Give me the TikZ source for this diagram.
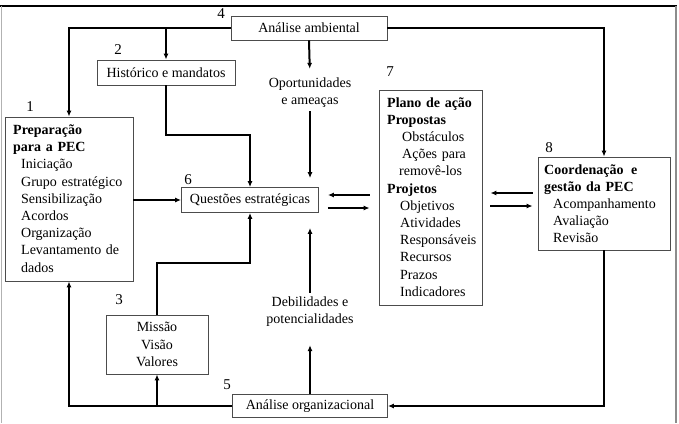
\documentclass[tikz,border=0pt]{standalone}
\usepackage{fontspec}
\setmainfont{Liberation Serif}
\usetikzlibrary{arrows.meta,calc}
\tikzset{
  box/.style={draw=black!70, line width=0.8pt, inner sep=0pt, fill=white},
  txt/.style={font=\fontsize{14}{17.2}\selectfont, inner sep=0pt},
  blk/.style={txt, align=left, anchor=base west},
  num/.style={font=\fontsize{15}{17}\selectfont, inner sep=0pt},
  conn/.style={line width=2pt, black},
  arr/.style={conn, -{Latex[length=6pt,width=5pt]}},
}
\begin{document}
\begin{tikzpicture}[x=1pt,y=-1pt]
\useasboundingbox (0,0) rectangle (679,423);
% frame
\draw[line width=1.5pt] (0,6) -- (677,6);
\draw[black!30, line width=1pt] (1,6) -- (1,423);
\draw[black!45, line width=2.5pt] (676,6) -- (676,423);

% boxes
\node[box, txt, minimum width=156pt, minimum height=24pt] (amb) at (309,28) {Análise ambiental};
\node[box, txt, minimum width=138pt, minimum height=25pt] (hist) at (166,72.5) {Histórico e mandatos};
\node[box, minimum width=128pt, minimum height=164pt] (prep) at (69,199) {};
\node[box, txt, minimum width=137pt, minimum height=25pt] (quest) at (250,200) {Questões estratégicas};
\node[box, txt, align=center, minimum width=102pt, minimum height=59pt] (miss) at (157,344.5) {Missão\\Visão\\Valores};
\node[box, txt, minimum width=155pt, minimum height=23pt] (org) at (310,406) {Análise organizacional};
\node[box, minimum width=103pt, minimum height=215pt] (plano) at (430.5,197.5) {};
\node[box, minimum width=132pt, minimum height=93pt] (coord) at (604,203.5) {};

% box texts
\node[blk, text width=118pt] (preptxt) at (13,134.5) {\textbf{Preparação}\\\textbf{para a PEC}\\
\hspace*{8pt}Iniciação\\\hspace*{8pt}Grupo estratégico\\\hspace*{8pt}Sensibilização\\
\hspace*{8pt}Acordos\\\hspace*{8pt}Organização\\\hspace*{8pt}Levantamento de\\\hspace*{8pt}dados};
\node[blk, text width=95pt] (planotxt) at (387,107) {\textbf{Plano de ação}\\\textbf{Propostas}\\
\hspace*{15pt}Obstáculos\\\hspace*{15pt}Ações para\\\hspace*{12pt}removê-los\\\textbf{Projetos}\\
\hspace*{13pt}Objetivos\\\hspace*{13pt}Atividades\\\hspace*{13pt}Responsáveis\\
\hspace*{13pt}Recursos\\\hspace*{13pt}Prazos\\\hspace*{13pt}Indicadores};
\node[blk, text width=125pt] (coordtxt) at (544,174) {\textbf{Coordenação\hspace{3pt} e}\\\textbf{gestão da PEC}\\
\hspace*{9pt}Acompanhamento\\\hspace*{9pt}Avaliação\\\hspace*{9pt}Revisão};

% free texts
\node[txt, align=center] (oport) at (310,93) {Oportunidades\\e ameaças};
\node[txt, align=center] (debil) at (310,312) {Debilidades e\\potencialidades};

% numbers
\node[num] (n1) at (30,107) {1};
\node[num] (n2) at (118,50) {2};
\node[num] (n3) at (119,300) {3};
\node[num] (n4) at (221,14) {4};
\node[num] (n5) at (227,385) {5};
\node[num] (n6) at (188,180) {6};
\node[num] (n7) at (390,72) {7};
\node[num] (n8) at (549,148) {8};

% connectors from Analise ambiental
\draw[arr] (amb.west) -| (prep.north);
\draw[arr] (hist.north |- amb.west) -- (hist.north);
\draw[arr] (amb.east) -| (coord.north);
\draw[arr, shorten >=9pt] (amb.south) -- (oport.north);
\draw[arr, shorten <=3pt, shorten >=9pt] (oport.south) -- (oport.south |- quest.north);

% into Questoes
\coordinate (hbend) at (166,135);
\draw[arr] (hist.south) -- (hbend) -| (quest.north);
\coordinate (mbend) at (157,263);
\draw[arr] (miss.north) -- (mbend) -| (quest.south);
\draw[arr] (prep.east |- quest.west) -- (quest.west);

% from Analise organizacional
\draw[arr] (org.west) -| (prep.south);
\draw[arr] (miss.south |- org.west) -- (miss.south);
\draw[arr, shorten >=18pt] (org.north) -- (debil.south);
\draw[arr, shorten <=4pt, shorten >=15pt] (debil.north) -- (debil.north |- quest.south);
\draw[arr] (coord.south) |- (org.east);

% double arrows
\coordinate (qa) at ([yshift=5pt]quest.east);
\coordinate (qb) at ([yshift=-8pt]quest.east);
\draw[arr, shorten <=9pt, shorten >=9pt] (qa -| plano.west) -- (qa);
\draw[arr, shorten <=9pt, shorten >=9pt] (qb) -- (qb -| plano.west);
\coordinate (pa) at ([yshift=10.5pt]coord.west);
\coordinate (pb) at ([yshift=-2.5pt]coord.west);
\draw[arr, shorten <=5pt, shorten >=8pt] (pa) -- (pa -| plano.east);
\draw[arr, shorten <=8pt, shorten >=5pt] (pb -| plano.east) -- (pb);
\end{tikzpicture}
\end{document}
